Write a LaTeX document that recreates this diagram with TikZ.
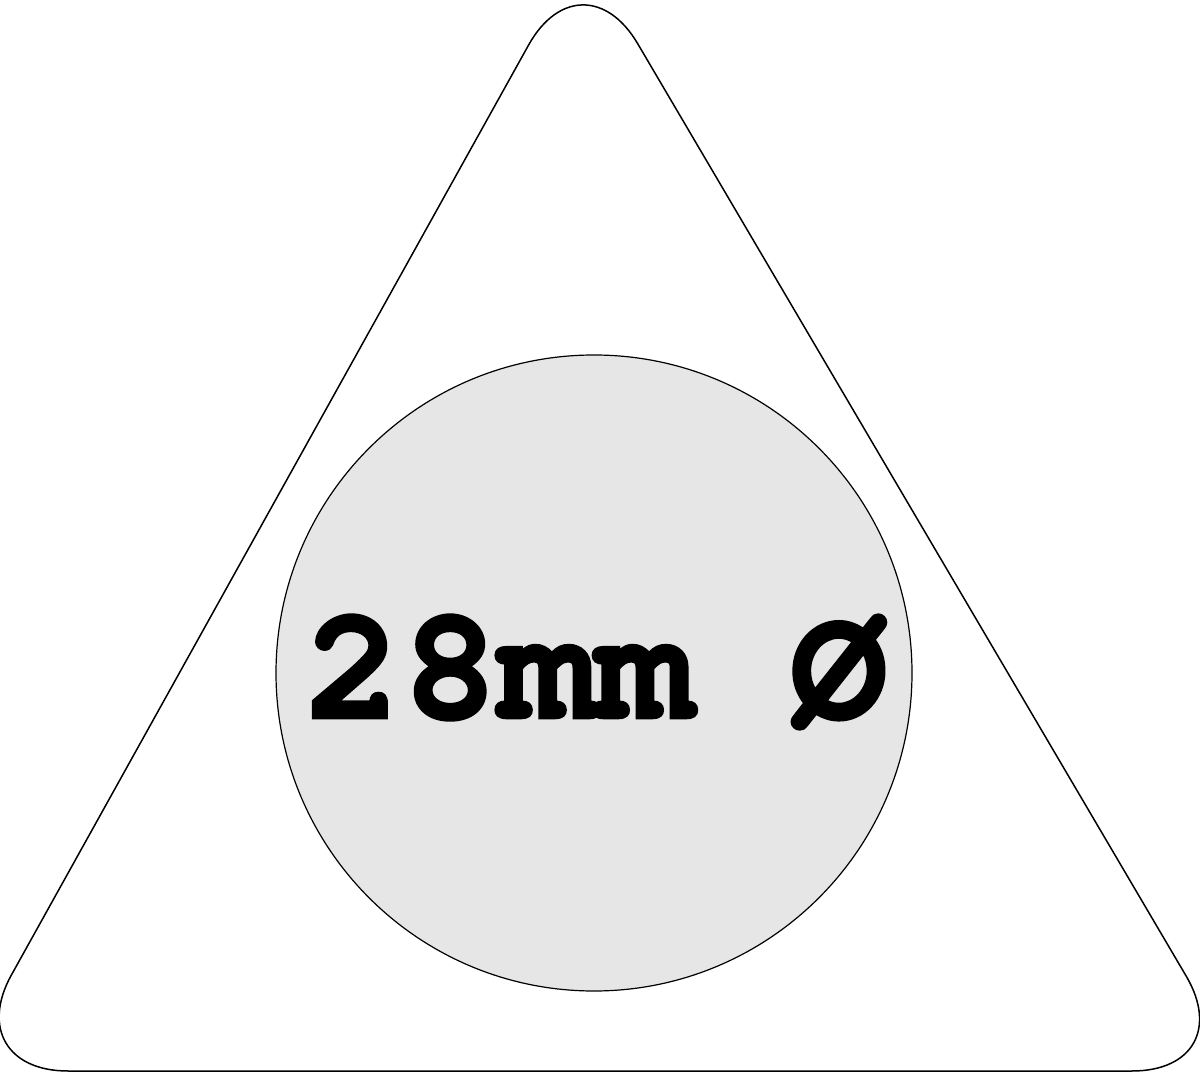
\documentclass[tikz,border=0pt]{standalone}
\usepackage{fontspec}
\usetikzlibrary{calc}
\newfontfamily\monob{TeX Gyre Cursor}[BoldFeatures={FakeBold=1.6}]
\definecolor{discgray}{HTML}{E6E6E6}
\tikzset{
  outline/.style={draw=black, line width=0.75pt},
  disc/.style={circle, draw=black, line width=0.6pt, fill=discgray, minimum size=318pt, inner sep=0pt},
  label28/.style={inner sep=0pt, anchor=base west, font=\monob\bfseries\fontsize{81pt}{90pt}\selectfont}
}
\begin{document}
\begin{tikzpicture}[x=0.5pt,y=-0.5pt]
\useasboundingbox (0,0) rectangle (1200,1074);
\coordinate (bl) at (-42,1071);
\coordinate (br) at (1242,1071);
\coordinate (ap) at (582,-51);
\coordinate (bm) at ($(bl)!0.5!(br)$);
\draw[outline, rounded corners=55pt] (bm) -- (br) -- (ap) -- (bl) -- cycle;
\node[disc] (d) at (594,673) {};
\node[label28] (t) at (304,718) {28mm Ø};
\end{tikzpicture}
\end{document}
